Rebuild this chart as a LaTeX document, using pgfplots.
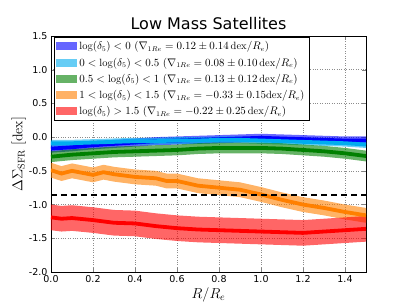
\documentclass[border=0pt]{standalone}
\usepackage{pgfplots}
\usepackage{pgfplotstable}
\pgfplotsset{compat=1.18}
\usepgfplotslibrary{fillbetween}
\usepackage{fontspec}
\newfontfamily\dejavu{DejaVu Sans}

\pgfplotstableread{
x y e
0.0 -0.17 0.06
0.1 -0.15 0.06
0.2 -0.12 0.06
0.3 -0.10 0.06
0.4 -0.08 0.06
0.5 -0.06 0.06
0.6 -0.05 0.06
0.7 -0.04 0.06
0.8 -0.03 0.06
0.9 -0.02 0.06
1.0 -0.01 0.06
1.1 -0.02 0.06
1.2 -0.03 0.06
1.3 -0.04 0.06
1.4 -0.05 0.06
1.5 -0.05 0.06
}\tblue

\pgfplotstableread{
x y e
0.0 -0.09 0.05
0.1 -0.09 0.05
0.2 -0.08 0.05
0.3 -0.07 0.05
0.4 -0.06 0.05
0.5 -0.06 0.05
0.6 -0.05 0.05
0.7 -0.05 0.05
0.8 -0.04 0.05
0.9 -0.04 0.05
1.0 -0.05 0.05
1.1 -0.06 0.05
1.2 -0.07 0.05
1.3 -0.08 0.05
1.4 -0.09 0.05
1.5 -0.11 0.05
}\tcyan

\pgfplotstableread{
x y e
0.0 -0.29 0.08
0.1 -0.26 0.08
0.2 -0.24 0.08
0.3 -0.22 0.08
0.4 -0.21 0.08
0.5 -0.20 0.08
0.6 -0.19 0.08
0.7 -0.17 0.08
0.8 -0.16 0.08
0.9 -0.16 0.08
1.0 -0.16 0.08
1.1 -0.17 0.08
1.2 -0.19 0.08
1.3 -0.21 0.08
1.4 -0.24 0.08
1.5 -0.28 0.08
}\tgreen

\pgfplotstableread{
x y e
0.00 -0.49 0.11
0.05 -0.54 0.11
0.10 -0.50 0.11
0.15 -0.53 0.11
0.20 -0.56 0.11
0.25 -0.52 0.11
0.30 -0.55 0.11
0.40 -0.59 0.11
0.50 -0.61 0.11
0.55 -0.65 0.11
0.60 -0.65 0.11
0.70 -0.72 0.11
0.80 -0.75 0.11
0.90 -0.78 0.11
1.00 -0.85 0.11
1.10 -0.93 0.11
1.20 -1.00 0.11
1.30 -1.05 0.11
1.40 -1.11 0.11
1.50 -1.16 0.11
}\torange

\pgfplotstableread{
x y e
0.00 -1.19 0.19
0.05 -1.21 0.19
0.10 -1.20 0.19
0.20 -1.23 0.19
0.30 -1.27 0.19
0.40 -1.28 0.19
0.50 -1.32 0.19
0.60 -1.35 0.19
0.70 -1.37 0.19
0.80 -1.38 0.19
0.90 -1.39 0.19
1.00 -1.40 0.19
1.10 -1.41 0.19
1.20 -1.42 0.19
1.30 -1.40 0.19
1.40 -1.38 0.19
1.50 -1.36 0.19
}\tred

\newcommand{\band}[3]{%
  \addplot[draw=none, forget plot, name path=#3u] table[x=x, y expr=\thisrow{y}+\thisrow{e}] {#1};
  \addplot[draw=none, forget plot, name path=#3l] table[x=x, y expr=\thisrow{y}-\thisrow{e}] {#1};
  \addplot[fill=#2, fill opacity=0.6, draw=none,
    legend image code/.code={\fill[fill=#2, fill opacity=0.6, draw=none] (0pt,-4pt) rectangle (21pt,4pt);}]
    fill between[of=#3u and #3l];
}
\newcommand{\cenline}[2]{%
  \addplot[#2, line width=3.8pt, forget plot] table[x=x, y=y] {#1};
}

\begin{document}
\begin{tikzpicture}
\begin{axis}[
  at={(0,0)}, anchor=south west,
  scale only axis, width=315pt, height=236pt,
  xmin=0, xmax=1.5, ymin=-2, ymax=1.5,
  xtick={0,0.2,...,1.4}, ytick={-2,-1.5,...,1.5},
  xticklabel style={/pgf/number format/.cd, fixed, fixed zerofill, precision=1},
  yticklabel style={/pgf/number format/.cd, fixed, fixed zerofill, precision=1},
  /pgf/number format/assume math mode=true,
  ticklabel style={font=\dejavu\fontsize{9.5}{11}\selectfont},
  tick align=inside, major tick length=4pt,
  xtick pos=both, ytick pos=both,
  grid=major, major grid style={black!45, dotted, line width=0.7pt},
  axis line style={black, line width=0.9pt},
  title={\dejavu\fontsize{16}{18}\selectfont Low Mass Satellites},
  title style={yshift=-3pt},
  xlabel={$R/R_e$}, ylabel={$\Delta\Sigma_{\rm SFR}\;[\rm dex]$},
  label style={font=\fontsize{14}{16}\selectfont},
  xlabel style={yshift=2pt},
  ylabel style={yshift=-4pt},
  legend style={at={(0.008,0.997)}, anchor=north west, draw=black, line width=0.8pt, fill=white,
    font=\fontsize{10.5}{12}\selectfont, row sep=2.5pt, inner sep=2.5pt, cells={anchor=west}},
]
\band{\tblue}{blue}{b}
\band{\tcyan}{cyan}{c}
\band{\tgreen}{green!50!black}{g}
\band{\torange}{orange}{o}
\band{\tred}{red}{r}
\cenline{\tblue}{blue}
\cenline{\tcyan}{cyan}
\cenline{\tgreen}{green!50!black}
\cenline{\torange}{orange}
\cenline{\tred}{red}
\addplot[black, line width=2.2pt, dash pattern=on 6pt off 4pt, forget plot] coordinates {(0,-0.86) (1.5,-0.86)};
\legend{
$\log(\delta_5)<0\ (\nabla_{1Re}=0.12\pm0.14\,{\rm dex}/R_e)$,
$0<\log(\delta_5)<0.5\ (\nabla_{1Re}=0.08\pm0.10\,{\rm dex}/R_e)$,
$0.5<\log(\delta_5)<1\ (\nabla_{1Re}=0.13\pm0.12\,{\rm dex}/R_e)$,
$1<\log(\delta_5)<1.5\ (\nabla_{1Re}=-0.33\pm0.15{\rm dex}/R_e)$,
$\log(\delta_5)>1.5\ (\nabla_{1Re}=-0.22\pm0.25\,{\rm dex}/R_e)$
}
\end{axis}
\pgfresetboundingbox
\useasboundingbox (-51pt,-33pt) rectangle (356pt,272pt);
\end{tikzpicture}
\end{document}
